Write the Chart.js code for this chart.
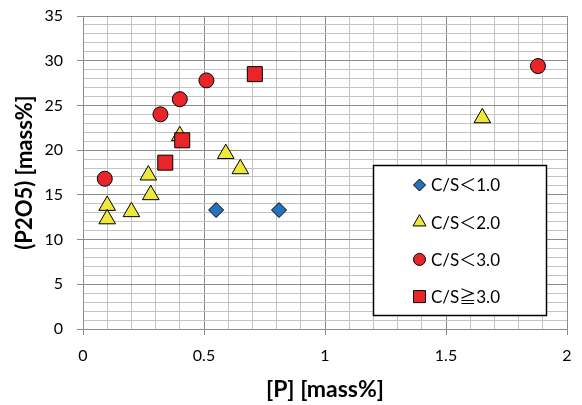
<!DOCTYPE html>
<html><head><meta charset="utf-8">
<script src="https://cdn.jsdelivr.net/npm/chart.js@4.4.1/dist/chart.umd.min.js"></script>
<style>html,body{margin:0;padding:0;background:#fff}#wrap{width:582px;height:405px}</style>
</head><body><div id="wrap"><canvas id="c" width="582" height="405"></canvas></div>
<script>
const seriesLabels = ['C/S＜1.0', 'C/S＜2.0', 'C/S＜3.0', 'C/S≧3.0'];
const cs1X = [0.55, 0.81];
const cs1Y = [13.3, 13.3];
const cs2X = [0.40, 0.59, 0.65, 0.27, 0.28, 0.10, 0.10, 0.20, 1.65];
const cs2Y = [21.6, 19.6, 17.9, 17.2, 15.0, 13.8, 12.3, 13.1, 23.6];
const cs3X = [0.09, 0.32, 0.40, 0.51, 1.88];
const cs3Y = [16.8, 24.0, 25.7, 27.8, 29.4];
const cs4X = [0.71, 0.41, 0.34];
const cs4Y = [28.5, 21.1, 18.6];
const xTickLabels = [0, 0.5, 1, 1.5, 2];
const yTickLabels = [0, 5, 10, 15, 20, 25, 30, 35];
const xTitle = '[P] [mass%]';
const yTitle = '(P2O5) [mass%]';

const FONT = 'Lato, "Noto Sans CJK JP", sans-serif';
const pts = (xs, ys) => xs.map((x, i) => ({x: x, y: ys[i]}));
const isMajor = (v, list) => list.some(t => Math.abs(t - v) < 1e-6);
const MAJOR = '#8c8c8c', MINOR = '#c4c4c4';

const styles = [
  {style: 'rectRot', color: '#2672bd', r: 7.5, lr: 6},
  {style: 'triangle', color: '#ede83a', r: 9.6, lr: 7.5},
  {style: 'circle', color: '#e8262a', r: 7.5, lr: 6},
  {style: 'rect', color: '#e8262a', r: 10.6, lr: 8.5}
];
const series = [pts(cs1X, cs1Y), pts(cs2X, cs2Y), pts(cs3X, cs3Y), pts(cs4X, cs4Y)];

function drawMarker(ctx, style, x, y, r) {
  if (Chart.helpers && Chart.helpers.drawPoint) {
    Chart.helpers.drawPoint(ctx, {pointStyle: style, rotation: 0, radius: r, borderWidth: 1}, x, y);
  }
}

const legendPlugin = {
  id: 'boxLegend',
  afterDatasetsDraw(chart) {
    const ctx = chart.ctx;
    const L = 373.5, T = 165.5, W = 173, H = 150;
    ctx.save();
    ctx.fillStyle = '#fff';
    ctx.fillRect(L, T, W, H);
    ctx.strokeStyle = '#000';
    ctx.lineWidth = 1.5;
    ctx.strokeRect(L, T, W, H);
    ctx.font = '17px ' + FONT;
    ctx.textBaseline = 'middle';
    ctx.textAlign = 'left';
    chart.data.datasets.forEach((ds, i) => {
      const cy = T + 19.5 + i * 37.2;
      ctx.fillStyle = ds.backgroundColor;
      ctx.strokeStyle = '#000';
      ctx.lineWidth = 1;
      drawMarker(ctx, ds.pointStyle, 419.5, cy, styles[i].lr);
      ctx.fillStyle = '#000';
      ctx.fillText(ds.label, 431, cy + 1);
    });
    ctx.restore();
  }
};

new Chart(document.getElementById('c'), {
  type: 'scatter',
  data: {
    datasets: series.map((d, i) => ({
      label: seriesLabels[i],
      data: d,
      pointStyle: styles[i].style,
      pointRadius: styles[i].r,
      pointHoverRadius: styles[i].r,
      backgroundColor: styles[i].color,
      borderColor: '#000',
      borderWidth: 1,
      order: 4 - i
    }))
  },
  options: {
    responsive: false,
    animation: false,
    devicePixelRatio: 1,
    layout: {padding: {left: 0, right: 15, top: 16, bottom: 0}},
    plugins: {legend: {display: false}, tooltip: {enabled: false}},
    scales: {
      x: {
        type: 'linear', min: 0, max: 2,
        afterFit: s => { s.height = 76; s.paddingLeft = 0; s.paddingRight = 0; },
        ticks: {
          stepSize: 0.1, autoSkip: false, maxRotation: 0, padding: 11,
          color: '#000', font: {family: FONT, size: 16},
          callback: v => isMajor(v, xTickLabels) ? String(Math.round(v * 10) / 10) : ''
        },
        grid: {
          color: c => isMajor(c.tick.value, xTickLabels) ? MAJOR : MINOR,
          tickColor: c => isMajor(c.tick.value, xTickLabels) ? MAJOR : 'rgba(0,0,0,0)',
          tickLength: 6, lineWidth: 1
        },
        border: {display: true, color: MAJOR, width: 1},
        title: {display: true, text: xTitle, color: '#000', font: {family: FONT, size: 23, weight: 'bold'}, padding: {top: 0, bottom: 2}}
      },
      y: {
        type: 'linear', min: 0, max: 35,
        afterFit: s => { s.width = 83; s.paddingTop = 0; s.paddingBottom = 0; },
        ticks: {
          stepSize: 1, autoSkip: false, padding: 14,
          color: '#000', font: {family: FONT, size: 16},
          callback: v => isMajor(v, yTickLabels) ? String(v) : ''
        },
        grid: {
          color: c => isMajor(c.tick.value, yTickLabels) ? MAJOR : MINOR,
          tickColor: c => isMajor(c.tick.value, yTickLabels) ? MAJOR : 'rgba(0,0,0,0)',
          tickLength: 6, lineWidth: 1
        },
        border: {display: true, color: MAJOR, width: 1},
        title: {display: true, text: yTitle, color: '#000', font: {family: FONT, size: 22, weight: 'bold'}, padding: {top: 12, bottom: 0}}
      }
    }
  },
  plugins: [legendPlugin]
});
</script></body></html>
